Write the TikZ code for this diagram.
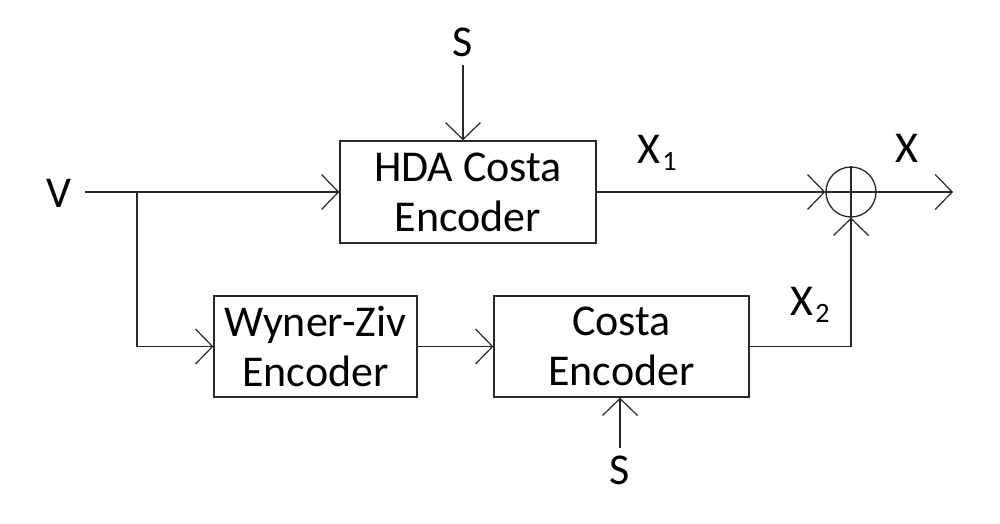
\documentclass[tikz,border=0pt]{standalone}
\usepackage{fontspec}
\setmainfont{Carlito}
\usetikzlibrary{arrows.meta}
\begin{document}
\begin{tikzpicture}[x=1pt,y=-1pt,
  line width=1.3pt, draw={rgb,255:red,40;green,40;blue,40},
  blk/.style={draw, rectangle, inner sep=0pt, align=center,
    font=\fontsize{44}{50}\selectfont},
  lbl/.style={inner sep=0pt, font=\fontsize{44}{50}\selectfont},
  arr/.style={-{Straight Barb[length=17pt,width=35pt,line width=1.2pt]}},
  sumnode/.style={draw, circle, minimum size=50pt, inner sep=0pt}]
\useasboundingbox (0,0) rectangle (1000,523);
\node[blk, minimum width=256pt, minimum height=102pt] (hda) at (468,192) {HDA Costa\\Encoder};
\node[blk, minimum width=203pt, minimum height=101pt] (wz) at (315.5,346.5) {Wyner-Ziv\\Encoder};
\node[blk, minimum width=255pt, minimum height=101pt] (costa) at (621.5,346.5) {Costa\\Encoder};
\node[sumnode] (sum) at (851,192) {};
\node[lbl] (v) at (59,193) {V};
\node[lbl] (stop) at (463,42) {S};
\node[lbl] (sbot) at (620,470) {S};
\node[lbl] (x) at (907,148) {X};
\node[lbl] (x1) at (657,153) {X\kern2pt\raisebox{-7pt}{\fontsize{28}{28}\selectfont 1}};
\node[lbl] (x2) at (810,305) {X\kern2pt\raisebox{-7pt}{\fontsize{28}{28}\selectfont 2}};
\coordinate (vin) at (85,192);
\coordinate (br) at (137,192);
\coordinate (stopend) at (463,65);
\coordinate (sbotend) at (620,448);
\coordinate (xout) at (953,192);
\draw[arr] (vin) -- (hda.west);
\draw[arr] (br) |- (wz.west);
\draw[arr] (wz.east) -- (costa.west);
\draw[arr] (stopend) -- (stopend |- hda.north);
\draw[arr] (sbotend) -- (sbotend |- costa.south);
\draw[arr] (hda.east) -- (sum.west);
\draw[arr] (costa.east) -| (sum.south);
\draw[arr] (sum.east) -- (xout);
\draw (sum.north) -- (sum.south);
\draw (sum.west) -- (sum.east);
\end{tikzpicture}
\end{document}
